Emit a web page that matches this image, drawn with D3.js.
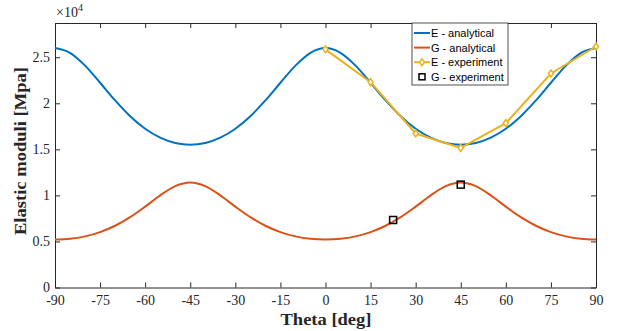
<!DOCTYPE html>
<html>
<head>
<meta charset="utf-8">
<script src="https://cdn.jsdelivr.net/npm/d3@7"></script>
<style>
  body { margin: 0; background: #fff; }
  svg { display: block; }
</style>
</head>
<body>
<svg width="622" height="331"></svg>
<script>
// angles for the analytical curves (deg)
var theta = [-90,-85,-80,-75,-70,-65,-60,-55,-50,-45,-40,-35,-30,-25,-20,-15,-10,-5,0,
             5,10,15,20,25,30,35,40,45,50,55,60,65,70,75,80,85,90];
// E - analytical [Mpa]
var eAnalytical = [26000,25480,24090,22230,20310,18600,17240,16270,15690,15500,15690,16270,17240,18600,20310,22230,24090,25480,26000,
                   25480,24090,22230,20310,18600,17240,16270,15690,15500,15690,16270,17240,18600,20310,22230,24090,25480,26000];
// G - analytical [Mpa]
var gAnalytical = [5200,5287,5553,6018,6707,7637,8782,10004,11004,11400,11004,10004,8782,7637,6707,6018,5553,5287,5200,
                   5287,5553,6018,6707,7637,8782,10004,11004,11400,11004,10004,8782,7637,6707,6018,5553,5287,5200];
// experiments
var eExpTheta = [0,15,30,45,60,75,90];
var eExp = [25860,22300,16720,15160,17850,23240,26170];
var gExpTheta = [22.5,45];
var gExp = [7330,11170];

var xTicks = [-90,-75,-60,-45,-30,-15,0,15,30,45,60,75,90];
var yTicks = [0,5000,10000,15000,20000,25000];

var cBlue = "#0072BD", cRed = "#D95319", cYel = "#EDB120", axc = "#262626";

var svg = d3.select("svg");
var pLeft = 55, pRight = 596, pTop = 23, pBottom = 287.5;

var x = d3.scaleLinear().domain([-90, 90]).range([pLeft, pRight]);
var y = d3.scaleLinear().domain([0, 28720]).range([pBottom, pTop]);

var serif = "'Liberation Serif', 'DejaVu Serif', serif";
var sans = "'Liberation Sans', Arial, sans-serif";

// axes (ticks inside)
var gx = svg.append("g").attr("transform", "translate(0," + pBottom + ")")
  .call(d3.axisBottom(x).tickValues(xTicks).tickSizeInner(-5).tickSizeOuter(0).tickPadding(9)
    .tickFormat(function(d){ return String(d); }));
var gxt = svg.append("g").attr("transform", "translate(0," + pTop + ")")
  .call(d3.axisTop(x).tickValues(xTicks).tickSizeInner(-5).tickSizeOuter(0).tickFormat(""));
var gy = svg.append("g").attr("transform", "translate(" + pLeft + ",0)")
  .call(d3.axisLeft(y).tickValues(yTicks).tickSizeInner(-5).tickSizeOuter(0).tickPadding(5)
    .tickFormat(function(d){ return String(d / 10000); }));
var gyr = svg.append("g").attr("transform", "translate(" + pRight + ",0)")
  .call(d3.axisRight(y).tickValues(yTicks).tickSizeInner(-5).tickSizeOuter(0).tickFormat(""));

[gx, gxt, gy, gyr].forEach(function(g){
  g.select(".domain").attr("stroke", axc).attr("stroke-width", 1);
  g.selectAll(".tick line").attr("stroke", axc);
  g.selectAll("text").attr("font-family", serif).attr("font-size", 14).attr("fill", axc);
});
gx.selectAll(".tick text").attr("dy", "0.6em");

// exponent label
var ex = svg.append("text").attr("x", 56).attr("y", 17).attr("font-family", serif).attr("font-size", 14).attr("fill", axc);
ex.append("tspan").text("\u00d710");
ex.append("tspan").attr("dy", -6).attr("font-size", 10).text("4");

// curves
var line = d3.line().curve(d3.curveMonotoneX).x(function(d){ return x(d[0]); }).y(function(d){ return y(d[1]); });
var segs = d3.line().x(function(d){ return x(d[0]); }).y(function(d){ return y(d[1]); });
svg.append("path").datum(d3.zip(theta, eAnalytical)).attr("d", line)
  .attr("fill", "none").attr("stroke", cBlue).attr("stroke-width", 2);
svg.append("path").datum(d3.zip(theta, gAnalytical)).attr("d", line)
  .attr("fill", "none").attr("stroke", cRed).attr("stroke-width", 2);

var eData = d3.zip(eExpTheta, eExp);
svg.append("path").datum(eData).attr("d", segs)
  .attr("fill", "none").attr("stroke", cYel).attr("stroke-width", 2);
var diamond = "M0,-3.5L2.5,0L0,3.5L-2.5,0Z";
svg.selectAll(".dm").data(eData).enter().append("path")
  .attr("transform", function(d){ return "translate(" + x(d[0]) + "," + y(d[1]) + ")"; })
  .attr("d", diamond).attr("fill", "white").attr("stroke", cYel).attr("stroke-width", 1.5);

svg.selectAll(".sq").data(d3.zip(gExpTheta, gExp)).enter().append("rect")
  .attr("x", function(d){ return x(d[0]) - 3.5; })
  .attr("y", function(d){ return y(d[1]) - 3.5; })
  .attr("width", 7).attr("height", 7)
  .attr("fill", "none").attr("stroke", "#000").attr("stroke-width", 1.5);

// legend
var lg = svg.append("g").attr("transform", "translate(412,23)");
lg.append("rect").attr("width", 96).attr("height", 62).attr("fill", "white").attr("stroke", axc).attr("stroke-width", 0.8);
var items = ["E - analytical", "G - analytical", "E - experiment", "G - experiment"];
items.forEach(function(t, i){
  var yy = 10 + i * 14.6;
  if (i < 3) {
    lg.append("line").attr("x1", 2).attr("x2", 18).attr("y1", yy).attr("y2", yy)
      .attr("stroke", [cBlue, cRed, cYel][i]).attr("stroke-width", 2);
  }
  if (i === 2) {
    lg.append("path").attr("transform", "translate(10," + yy + ")").attr("d", diamond)
      .attr("fill", "white").attr("stroke", cYel).attr("stroke-width", 1.5);
  }
  if (i === 3) {
    lg.append("rect").attr("x", 7).attr("y", yy - 3).attr("width", 6).attr("height", 6)
      .attr("fill", "none").attr("stroke", "#000").attr("stroke-width", 1.5);
  }
  lg.append("text").attr("x", 19).attr("y", yy + 4).attr("font-family", sans).attr("font-size", 11)
    .attr("fill", "#000").text(t);
});

// axis labels
svg.append("text").attr("x", 326).attr("y", 325).attr("text-anchor", "middle")
  .attr("font-family", serif).attr("font-weight", "bold").attr("font-size", 17).attr("fill", axc)
  .attr("textLength", 91).attr("lengthAdjust", "spacingAndGlyphs")
  .text("Theta [deg]");
svg.append("text").attr("transform", "translate(26,151) rotate(-90)")
  .attr("text-anchor", "middle")
  .attr("font-family", serif).attr("font-weight", "bold").attr("font-size", 17).attr("fill", axc)
  .attr("textLength", 168).attr("lengthAdjust", "spacingAndGlyphs")
  .text("Elastic moduli [Mpa]");
</script>
</body>
</html>
